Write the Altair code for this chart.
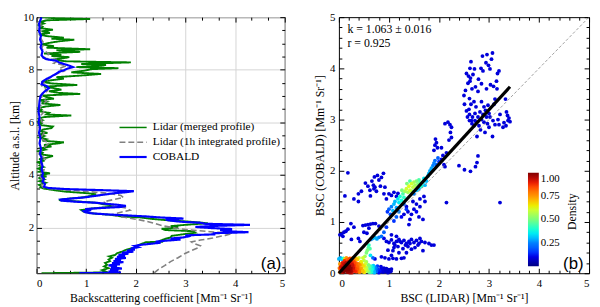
import altair as alt
import pandas as pd

FONT = "Liberation Serif"

# ---------------- Panel (a): vertical profiles ----------------
series_names = ["Lidar (merged profile)", "Lidar (1h integrated profile)", "COBALD"]
series_colors = ["#008000", "#808080", "#0000ff"]

green_alt = [0.26, 0.29, 0.32, 0.38, 0.45, 0.52, 0.58, 0.65, 0.72, 0.78, 0.85, 0.90, 0.95, 1.02, 1.08,
             1.15, 1.22, 1.28, 1.35, 1.40, 1.44, 1.46, 1.50, 1.56, 1.62, 1.68, 1.74, 1.80, 1.86, 1.90,
             1.95, 2.00, 2.05, 2.10, 2.16, 2.22, 2.28, 2.33, 2.38, 2.42, 2.48, 2.52, 2.56, 2.60, 2.66,
             2.72, 2.78, 2.84, 2.88, 2.94, 3.00, 3.04, 3.08, 3.14, 3.20, 3.26, 3.30, 3.36, 3.42, 3.48,
             3.52, 3.55, 3.62, 3.70, 3.76, 3.82, 3.88, 3.94, 4.00, 4.06, 4.12, 4.18, 4.24, 4.30, 4.36,
             4.42, 4.48, 4.54, 4.60, 4.66, 4.72, 4.78, 4.84, 4.90, 4.96, 5.02, 5.08, 5.14, 5.20, 5.24,
             5.30, 5.36, 5.42, 5.48, 5.54, 5.60, 5.66, 5.72, 5.78, 5.84, 5.90, 5.96, 6.02, 6.08, 6.14,
             6.20, 6.26, 6.30, 6.36, 6.42, 6.48, 6.54, 6.60, 6.66, 6.72, 6.78, 6.84, 6.90, 6.96, 7.02,
             7.08, 7.12, 7.18, 7.24, 7.30, 7.36, 7.42, 7.48, 7.54, 7.60, 7.66, 7.72, 7.78, 7.84, 7.90,
             7.96, 8.02, 8.06, 8.10, 8.14, 8.18, 8.22, 8.28, 8.32, 8.38, 8.44, 8.48, 8.52, 8.56, 8.62,
             8.68, 8.74, 8.78, 8.84, 8.90, 8.96, 9.02, 9.08, 9.14, 9.18, 9.22, 9.28, 9.34, 9.40, 9.46,
             9.52, 9.58, 9.64, 9.70, 9.76, 9.82, 9.88, 9.93, 9.97, 10.0]
green_bsc = [0.10, 1.35, 1.40, 1.32, 1.45, 1.36, 1.42, 1.38, 1.48, 1.45, 1.52, 1.46, 1.58, 1.62, 1.72,
             1.80, 1.95, 2.02, 2.08, 2.15, 2.20, 2.55, 2.50, 2.58, 2.70, 2.72, 2.95, 3.20, 3.15, 2.60,
             2.52, 2.85, 2.70, 3.00, 3.45, 3.10, 2.60, 2.30, 2.10, 1.70, 1.50, 1.20, 1.05, 0.95, 0.90,
             1.10, 1.45, 1.55, 1.35, 1.20, 0.75, 0.45, 0.55, 0.90, 1.10, 1.20, 1.05, 0.60, 0.35, 0.15,
             0.08, 0.10, 0.05, 0.18, 0.06, 0.15, 0.04, 0.20, 0.08, 0.27, 0.05, 0.12, 0.03, 0.14, 0.06,
             0.10, 0.02, 0.16, 0.05, 0.22, 0.33, 0.08, 0.12, 0.03, 0.18, 0.10, 0.30, 0.15, 0.45, 0.55,
             0.12, 0.20, 0.06, 0.15, 0.05, 0.22, 0.08, 0.12, 0.30, 0.33, 0.05, 0.10, 0.03, 0.12, 0.05,
             0.15, 0.70, 0.20, 0.25, 0.05, 0.10, 0.04, 0.18, 0.48, 0.10, 0.20, 0.05, 0.35, 0.20, 0.12,
             0.88, 0.45, 0.25, 0.50, 0.35, 0.15, 0.82, 0.30, 0.10, 0.30, 0.55, 0.40, 0.90, 1.30, 0.70,
             0.95, 1.10, 1.65, 0.80, 1.20, 1.40, 0.90, 1.90, 0.60, 0.30, 0.55, 0.66, 0.30, 0.50, 0.15,
             0.88, 0.40, 1.08, 0.20, 0.35, 0.10, 0.25, 0.45, 0.76, 0.30, 0.55, 0.20, 0.05, 0.27, 0.10,
             0.33, 0.08, 0.12, 0.05, 0.15, 0.08, 0.20, 1.08, 0.30, 0.10]

gray_alt = [0.27, 0.40, 0.55, 0.70, 0.85, 1.00, 1.12, 1.22, 1.30, 1.38, 1.45, 1.52, 1.60, 1.70, 1.78,
            1.84, 1.90, 1.98, 2.06, 2.14, 2.22, 2.30, 2.38, 2.44, 2.50, 2.58, 2.66, 2.74, 2.82, 2.90,
            2.98, 3.06, 3.14, 3.22, 3.30, 3.38, 3.44, 3.50, 3.60, 3.80, 4.00, 4.20, 4.40, 4.60, 4.80,
            5.00, 5.20, 5.40, 5.60, 5.80, 6.00, 6.20, 6.40, 6.60, 6.80, 7.00, 7.20, 7.40, 7.60, 7.80,
            7.95, 8.05, 8.15, 8.25, 8.35, 8.45, 8.60, 8.80, 9.00, 9.30, 9.60, 10.0]
gray_bsc = [2.37, 2.45, 2.58, 2.70, 2.85, 2.98, 3.12, 3.25, 3.30, 3.18, 3.12, 3.30, 3.55, 3.80, 3.95,
            3.50, 3.10, 2.80, 2.55, 2.40, 2.25, 2.05, 1.80, 1.60, 1.55, 1.70, 1.88, 1.80, 1.55, 1.40,
            1.35, 1.55, 1.75, 1.70, 1.45, 0.95, 0.50, 0.15, 0.10, 0.12, 0.05, 0.15, 0.08, 0.18, 0.05,
            0.12, 0.25, 0.08, 0.15, 0.05, 0.12, 0.06, 0.15, 0.05, 0.20, 0.08, 0.22, 0.10, 0.20, 0.35,
            0.55, 0.45, 0.60, 0.35, 0.45, 0.15, 0.25, 0.10, 0.15, 0.05, 0.10, 0.05]

blue_alt = [0.26, 0.28, 0.32, 0.36, 0.40, 0.44, 0.48, 0.52, 0.56, 0.60, 0.64, 0.68, 0.72, 0.76, 0.80,
            0.84, 0.88, 0.92, 0.96, 1.00, 1.04, 1.08, 1.12, 1.16, 1.20, 1.25, 1.30, 1.34, 1.38, 1.42,
            1.46, 1.50, 1.54, 1.58, 1.62, 1.66, 1.70, 1.74, 1.78, 1.82, 1.86, 1.90, 1.94, 1.98, 2.02,
            2.06, 2.10, 2.14, 2.18, 2.22, 2.26, 2.30, 2.34, 2.38, 2.42, 2.46, 2.50, 2.54, 2.58, 2.62,
            2.66, 2.70, 2.74, 2.78, 2.82, 2.86, 2.90, 2.94, 2.98, 3.02, 3.06, 3.10, 3.14, 3.18, 3.22,
            3.26, 3.30, 3.34, 3.38, 3.42, 3.46, 3.50, 3.55, 3.65, 3.75, 3.85, 3.95, 4.05, 4.20, 4.35,
            4.50, 4.65, 4.80, 5.00, 5.20, 5.40, 5.60, 5.80, 6.00, 6.20, 6.40, 6.60, 6.80, 7.00, 7.10,
            7.20, 7.30, 7.38, 7.45, 7.55, 7.65, 7.72, 7.78, 7.85, 7.92, 7.98, 8.04, 8.10, 8.16, 8.22,
            8.28, 8.34, 8.40, 8.46, 8.55, 8.70, 8.85, 9.00, 9.15, 9.30, 9.45, 9.60, 9.75, 9.90, 10.0]
blue_bsc = [0.86, 1.70, 1.45, 1.65, 1.48, 1.72, 1.50, 1.62, 1.45, 1.68, 1.52, 1.75, 1.55, 1.70, 1.58,
            1.80, 1.62, 1.78, 1.65, 1.85, 1.72, 1.95, 1.82, 1.98, 1.90, 2.05, 1.98, 2.10, 2.30, 2.50,
            2.40, 2.62, 2.90, 2.70, 2.95, 3.05, 3.00, 3.60, 3.55, 4.27, 3.80, 3.70, 3.94, 3.50, 3.20,
            3.60, 4.30, 3.40, 3.30, 2.90, 2.70, 2.60, 2.96, 2.50, 2.20, 1.80, 1.40, 1.10, 0.98, 0.95,
            1.10, 0.98, 1.30, 1.70, 1.80, 1.65, 1.40, 1.20, 0.80, 0.50, 0.48, 0.70, 0.95, 1.10, 1.25,
            1.40, 1.55, 1.80, 1.96, 1.30, 0.60, 0.25, 0.15, 0.17, 0.12, 0.15, 0.11, 0.13, 0.10, 0.12,
            0.09, 0.10, 0.07, 0.09, 0.06, 0.08, 0.05, 0.07, 0.04, 0.06, 0.04, 0.05, 0.06, 0.08, 0.12,
            0.18, 0.25, 0.20, 0.10, 0.12, 0.20, 0.28, 0.33, 0.40, 0.45, 0.55, 0.62, 0.73, 0.65, 0.55,
            0.45, 0.40, 0.20, 0.14, 0.10, 0.12, 0.08, 0.10, 0.07, 0.09, 0.05, 0.06, 0.05, 0.08, 0.10]

# ---------------- Panel (b): scatter ----------------
lidar_bsc = [
    0.05, 0.08, 0.10, 0.12, 0.15, 0.18, 0.20, 0.22, 0.25, 0.28, 0.30, 0.33, 0.35, 0.38, 0.40, 0.42,
    0.14, 0.18, 0.10, 0.06, 0.03, 0.02, 0.26, 0.30, 0.22, 0.17, 0.12, 0.08, 0.35, 0.45, 0.48, 0.50,
    0.52, 0.55, 0.58, 0.60, 0.62, 0.65, 0.68, 0.70, 0.72, 0.75, 0.78, 0.82, 0.85, 0.88, 0.92, 0.95,
    1.00, 1.05, 1.02, 0.80, 0.98,
    0.00, 0.03, 0.06, 0.09, 0.12, 0.15, 0.19, 0.22, 0.25, 0.28, 0.31, 0.34, 0.37, 0.40,
    0.48, 0.52, 0.55, 0.57, 0.59, 0.60, 0.62, 0.45, 0.50, 0.63, 0.68, 0.72, 0.55,
    0.68, 0.72, 0.76, 0.80, 0.85, 0.64, 0.90, 0.95,
    0.95, 1.00, 1.05, 1.10, 1.15, 1.20, 1.25, 1.30, 1.35, 1.40, 1.45, 1.50, 1.55, 1.60, 1.65, 1.10,
    1.18, 1.28, 1.38, 1.45, 1.52, 1.68, 1.80, 1.85, 1.90, 1.00, 1.08, 1.15, 1.25, 0.92, 0.85, 1.05,
    1.15, 0.90,
    0.97, 1.00, 1.03, 1.05, 1.08, 1.10, 1.12, 1.15, 1.18, 1.20, 1.22, 1.25, 1.28, 1.30, 1.32, 1.35,
    1.38, 1.40, 1.42, 1.45, 1.48, 1.50, 1.52, 1.55, 1.58, 1.60, 1.62, 1.65, 1.68, 1.70, 1.72, 1.36,
    1.42, 1.46, 1.26, 1.30, 1.35, 1.20, 1.15, 1.10, 1.50, 1.55, 1.60, 1.75, 1.78, 1.80, 1.82, 1.85,
    1.88, 1.90, 1.92, 1.95, 1.98, 2.00, 2.05, 2.08, 2.10, 2.12,
    1.00, 1.05, 1.10, 1.15, 1.18, 1.30, 1.35, 1.38, 1.42, 1.45, 1.50, 1.55, 1.60, 1.62, 1.48, 1.70,
    1.90, 1.92, 1.95, 1.93, 1.97, 2.18, 2.22, 2.25, 2.23, 2.25, 2.20, 2.12, 2.15, 2.05, 2.40, 2.51,
    2.63, 2.73, 2.76, 2.78, 2.15, 3.22,
    0.18, 0.12, 0.39, 0.39, 0.53, 0.66, 0.69, 0.70, 0.72, 0.77, 0.89, 0.85, 0.80, 0.63, 0.75, 0.90,
    0.95, 0.24, 0.18, 0.10, 0.02, 0.05, 0.25, 0.39, 0.50, 0.53, 0.58, 0.63, 0.68, 0.73, 0.48, 0.80,
    2.59, 2.63, 2.64, 2.71, 2.84, 2.87, 2.96, 3.07, 2.94, 2.99, 3.02, 3.17, 2.58, 2.79, 3.03, 3.09,
    2.53, 2.73, 3.16, 3.33, 2.50, 2.61, 2.51, 2.55, 2.61, 2.67, 2.72, 2.65, 2.61, 2.78, 2.75, 2.85,
    2.90, 2.95, 3.00, 2.97, 2.80, 2.70, 3.37, 3.40, 3.30, 3.20, 3.38, 3.07, 2.76, 2.90, 2.85, 3.10,
    3.05, 3.15, 2.68, 2.70, 2.68, 3.25, 3.28, 2.80, 2.90, 3.00]
cobald_bsc = [
    0.05, 0.10, 0.03, 0.15, 0.08, 0.12, 0.04, 0.18, 0.10, 0.06, 0.14, 0.09, 0.03, 0.12, 0.06, 0.16,
    0.20, 0.22, 0.18, 0.15, 0.08, 0.02, 0.20, 0.22, 0.01, 0.02, 0.09, 0.02, 0.18, 0.10, 0.03, 0.14,
    0.07, 0.11, 0.04, 0.13, 0.08, 0.02, 0.10, 0.05, 0.12, 0.03, 0.08, 0.04, 0.09, 0.02, 0.06, 0.09,
    0.07, 0.08, 0.03, 0.01, 0.01,
    0.28, 0.30, 0.27, 0.29, 0.28, 0.30, 0.27, 0.29, 0.28, 0.30, 0.26, 0.29, 0.27, 0.30,
    0.30, 0.33, 0.40, 0.45, 0.50, 0.55, 0.48, 0.22, 0.25, 0.35, 0.30, 0.28, 0.22,
    0.68, 0.70, 0.67, 0.70, 0.72, 0.66, 0.80, 0.90,
    0.62, 0.60, 0.65, 0.58, 0.62, 0.66, 0.60, 0.64, 0.58, 0.62, 0.66, 0.60, 0.64, 0.58, 0.62, 0.50,
    0.52, 0.48, 0.52, 0.47, 0.50, 0.44, 0.58, 0.55, 0.55, 0.28, 0.29, 0.28, 0.29, 0.30, 0.32, 0.75,
    0.72, 0.68,
    1.20, 1.25, 1.15, 1.30, 1.22, 1.35, 1.40, 1.28, 1.45, 1.38, 1.50, 1.42, 1.55, 1.48, 1.60, 1.65,
    1.58, 1.70, 1.62, 1.75, 1.68, 1.78, 1.72, 1.80, 1.74, 1.82, 1.76, 1.70, 1.78, 1.85, 1.72, 1.75,
    1.80, 1.60, 1.62, 1.35, 1.25, 1.20, 1.10, 1.02, 1.55, 1.62, 1.65, 1.80, 1.90, 1.95, 2.00, 2.05,
    2.10, 2.15, 2.20, 2.12, 2.25, 2.18, 2.22, 2.30, 2.12, 2.08,
    1.55, 1.52, 1.58, 1.50, 1.56, 1.15, 1.30, 1.20, 1.05, 1.15, 1.25, 1.35, 1.10, 1.45, 1.40, 1.50,
    2.40, 2.50, 2.55, 2.62, 2.45, 2.95, 2.90, 2.85, 2.75, 2.65, 2.60, 2.92, 2.35, 2.45, 2.10, 2.02,
    1.99, 2.08, 2.16, 2.29, 1.38, 1.38,
    1.96, 1.51, 1.55, 1.40, 1.76, 1.80, 1.72, 1.65, 1.68, 1.91, 1.95, 1.87, 1.82, 1.51, 1.60, 1.55,
    1.45, 0.97, 0.86, 0.80, 0.75, 0.76, 0.66, 0.68, 0.80, 0.94, 0.95, 0.96, 0.97, 0.97, 0.93, 0.92,
    3.85, 3.81, 4.13, 3.99, 4.00, 4.24, 4.27, 4.30, 4.11, 4.06, 3.99, 3.90, 3.71, 3.79, 3.68, 3.65,
    3.57, 3.64, 3.60, 3.40, 3.47, 3.41, 3.30, 3.17, 3.10, 3.05, 3.12, 2.98, 2.98, 3.05, 2.95, 3.00,
    2.95, 3.05, 3.12, 2.92, 2.88, 2.88, 3.08, 3.03, 2.94, 2.90, 2.98, 2.67, 2.67, 3.25, 3.35, 3.30,
    3.20, 3.15, 3.20, 3.55, 3.45, 3.70, 3.50, 4.10, 3.85, 3.50]
density = [
    0.95, 0.98, 1.00, 0.97, 1.00, 0.99, 0.98, 0.92, 0.95, 0.90, 0.88, 0.85, 0.85, 0.80, 0.78, 0.75,
    0.95, 0.90, 0.93, 0.90, 0.85, 0.80, 0.90, 0.85, 0.96, 0.97, 1.00, 0.92, 0.80, 0.72, 0.70, 0.66,
    0.62, 0.58, 0.52, 0.48, 0.44, 0.40, 0.36, 0.30, 0.26, 0.20, 0.15, 0.12, 0.10, 0.08, 0.08, 0.08,
    0.08, 0.08, 0.08, 0.12, 0.08,
    0.30, 0.28, 0.32, 0.40, 0.65, 0.75, 0.82, 0.85, 0.80, 0.78, 0.75, 0.70, 0.68, 0.60,
    0.60, 0.55, 0.50, 0.50, 0.45, 0.42, 0.45, 0.62, 0.58, 0.35, 0.20, 0.10, 0.55,
    0.30, 0.30, 0.28, 0.25, 0.22, 0.25, 0.20, 0.15,
    0.09, 0.09, 0.09, 0.09, 0.09, 0.09, 0.09, 0.09, 0.09, 0.09, 0.09, 0.09, 0.09, 0.09, 0.09, 0.09,
    0.09, 0.09, 0.09, 0.09, 0.09, 0.09, 0.09, 0.09, 0.09, 0.09, 0.09, 0.09, 0.09, 0.09, 0.10, 0.09,
    0.09, 0.10,
    0.15, 0.20, 0.18, 0.25, 0.30, 0.30, 0.30, 0.28, 0.35, 0.35, 0.40, 0.38, 0.45, 0.42, 0.55, 0.60,
    0.55, 0.62, 0.60, 0.60, 0.58, 0.55, 0.55, 0.50, 0.50, 0.45, 0.45, 0.40, 0.38, 0.35, 0.30, 0.50,
    0.45, 0.50, 0.50, 0.20, 0.15, 0.25, 0.20, 0.15, 0.25, 0.30, 0.30, 0.30, 0.30, 0.30, 0.28, 0.28,
    0.25, 0.25, 0.22, 0.20, 0.20, 0.15, 0.12, 0.10, 0.09, 0.09] + [0.09] * 118

# additional points (b)
extra_lidar = [
    0.04, 0.07, 0.11, 0.13, 0.16, 0.19, 0.21, 0.24, 0.27, 0.29, 0.32, 0.34, 0.37, 0.39, 0.41, 0.43,
    0.46, 0.47, 0.51, 0.53, 0.56, 0.59, 0.61, 0.64, 0.66, 0.69, 0.71, 0.74, 0.77, 0.80, 0.84, 0.87,
    0.90, 0.93, 0.97, 1.04, 0.01, 0.02, 0.09, 0.14, 0.23, 0.26, 0.31, 0.36, 0.44, 0.20, 0.28, 0.16,
    2.55, 2.62, 2.66, 2.70, 2.74, 2.82, 2.88, 2.93, 2.98, 3.02, 3.08, 3.12, 3.18, 3.22, 3.28, 2.60,
    2.64, 2.57, 2.83, 2.92, 3.00, 2.72, 2.66, 3.12, 2.78, 2.85, 2.95, 2.62, 2.68, 3.35, 3.42, 3.34,
    3.15, 3.20, 2.88, 3.05,
    0.45, 0.58, 0.62, 0.71, 0.83, 0.92, 0.30, 0.08, 0.14, 0.30, 0.42, 0.56, 0.60,
    1.12, 1.22, 1.33, 1.42, 1.58, 1.62, 1.72, 1.05, 1.20, 1.35, 0.98, 1.08, 1.30,
    1.25, 1.40, 1.55, 1.62, 1.68, 1.72]
extra_cobald = [
    0.12, 0.20, 0.24, 0.06, 0.16, 0.07, 0.14, 0.05, 0.16, 0.10, 0.04, 0.20, 0.08, 0.18, 0.02, 0.09,
    0.17, 0.06, 0.02, 0.18, 0.06, 0.16, 0.02, 0.14, 0.07, 0.15, 0.01, 0.09, 0.14, 0.06, 0.13, 0.05,
    0.10, 0.03, 0.05, 0.04, 0.10, 0.18, 0.06, 0.11, 0.10, 0.01, 0.18, 0.13, 0.22, 0.25, 0.24, 0.26,
    3.90, 3.75, 3.60, 3.35, 3.25, 3.15, 3.10, 3.18, 3.28, 3.05, 2.98, 2.90, 3.00, 3.10, 2.85, 3.20,
    3.30, 3.05, 2.80, 2.75, 2.85, 2.98, 2.92, 3.40, 3.55, 3.70, 3.60, 4.00, 3.88, 3.15, 2.96, 2.88,
    3.75, 3.95, 3.95, 4.18,
    1.60, 1.70, 1.62, 1.88, 1.70, 1.68, 1.45, 0.72, 0.82, 0.90, 0.62, 0.78, 0.88,
    0.55, 0.62, 0.55, 0.58, 0.55, 0.68, 0.60, 0.35, 0.40, 0.40, 0.45, 0.44, 0.30,
    1.10, 0.95, 1.20, 1.30, 1.05, 1.40]
extra_density = [
    0.92, 0.90, 0.88, 1.00, 1.00, 1.00, 0.99, 0.97, 0.93, 0.92, 0.88, 0.82, 0.83, 0.78, 0.78, 0.74,
    0.68, 0.70, 0.64, 0.60, 0.56, 0.50, 0.46, 0.42, 0.38, 0.32, 0.30, 0.22, 0.16, 0.13, 0.10, 0.09,
    0.08, 0.08, 0.08, 0.08, 0.80, 0.75, 0.97, 1.00, 0.98, 0.93, 0.85, 0.82, 0.65, 0.85, 0.80, 0.82,
    0.09, 0.09, 0.09, 0.09, 0.09, 0.09, 0.09, 0.09, 0.09, 0.09, 0.09, 0.09, 0.09, 0.09, 0.09, 0.09,
    0.09, 0.09, 0.09, 0.09, 0.09, 0.09, 0.09, 0.09, 0.09, 0.09, 0.09, 0.09, 0.09, 0.09, 0.09, 0.09,
    0.09, 0.09, 0.09, 0.09,
    0.09, 0.09, 0.09, 0.09, 0.09, 0.09, 0.09, 0.09, 0.09, 0.09, 0.09, 0.09, 0.09,
    0.09, 0.09, 0.09, 0.09, 0.09, 0.09, 0.09, 0.09, 0.09, 0.09, 0.09, 0.09, 0.09,
    0.12, 0.09, 0.12, 0.09, 0.09, 0.09]

one_to_one_x = [0.0, 5.0]
one_to_one_y = [0.0, 5.0]
fit_x = [0.0, 3.42]
fit_y = [0.0, 3.64]
jet = ["#000080", "#0000ff", "#0080ff", "#15ffe2", "#7bff7b", "#e2ff15", "#ff9700", "#ff2100", "#800000"]

stats_text = ["k = 1.063 \u00b1 0.016", "r = 0.925"]

# ---------------- build tables ----------------
prof = pd.concat([
    pd.DataFrame({"alt": green_alt, "bsc": green_bsc, "series": series_names[0]}),
    pd.DataFrame({"alt": gray_alt, "bsc": gray_bsc, "series": series_names[1]}),
    pd.DataFrame({"alt": blue_alt, "bsc": blue_bsc, "series": series_names[2]}),
], ignore_index=True)
n = min(len(lidar_bsc), len(cobald_bsc), len(density))
m = min(len(extra_lidar), len(extra_cobald), len(extra_density))
scat = pd.DataFrame({"lidar": lidar_bsc[:n] + extra_lidar[:m],
                     "cobald": cobald_bsc[:n] + extra_cobald[:m],
                     "density": density[:n] + extra_density[:m]})
scat = scat.sort_values("density", kind="stable")
one = pd.DataFrame({"lidar": one_to_one_x, "cobald": one_to_one_y})
fit = pd.DataFrame({"lidar": fit_x, "cobald": fit_y})

W = 252
H = 260
UNIT = "[Mm\u207b\u00b9 Sr\u207b\u00b9]"


def main_axis(values, title, grid, lp, tp):
    return alt.Axis(values=values, grid=grid, gridColor="#d4d4d4", gridWidth=1, ticks=False,
                    domain=False, labelFont=FONT, labelFontSize=11, labelColor="black",
                    labelPadding=lp, title=title, titleFont=FONT, titleFontSize=12,
                    titleFontWeight="normal", titleColor="black", titlePadding=tp, format="d")


def tick_axis(orient, values, size):
    return alt.Axis(orient=orient, values=values, tickSize=size, offset=-size, labels=False,
                    domain=False, grid=False, title=None, tickColor="black", tickWidth=1)


def tick_layers(data, xf, yf, xmaj, xmin, ymaj, ymin):
    out = []
    for xo, yo, xv, yv, s in [("bottom", "left", xmaj, ymaj, 5), ("bottom", "left", xmin, ymin, 3),
                              ("top", "right", xmaj, ymaj, 5), ("top", "right", xmin, ymin, 3)]:
        out.append(alt.Chart(data).mark_point(opacity=0).encode(
            x=alt.X(xf, axis=tick_axis(xo, xv, s)),
            y=alt.Y(yf, axis=tick_axis(yo, yv, s))))
    return out


def one_entry_legend(name, row, stroke_color):
    return alt.Legend(title=None, orient="none", legendX=83, legendY=97 + 15 * row, values=[name],
                      symbolType="stroke", symbolSize=760, symbolStrokeColor=stroke_color,
                      labelFont=FONT, labelFontSize=11.5, labelColor="black", labelOffset=5)


n0, n1, n2 = series_names
lines = alt.Chart(prof).mark_line(clip=True).encode(
    x=alt.X("bsc:Q", scale=alt.Scale(domain=[0, 5], nice=False),
            axis=main_axis([0, 1, 2, 3, 4, 5], "Backscattering coefficient " + UNIT, True, 4, 5)),
    y=alt.Y("alt:Q", scale=alt.Scale(domain=[0.26, 10], nice=False, zero=False),
            axis=main_axis([2, 4, 6, 8, 10], "Altitude a.s.l. [km]", True, 3, 1)),
    color=alt.Color("series:N", scale=alt.Scale(domain=[n0, n1, n2], range=series_colors),
                    legend=one_entry_legend(n0, 0, series_colors[0])),
    strokeDash=alt.StrokeDash("series:N", scale=alt.Scale(domain=[n1, n0, n2], range=[[6, 3], [1, 0], [1, 0]]),
                              legend=one_entry_legend(n1, 1, series_colors[1])),
    strokeWidth=alt.StrokeWidth("series:N", scale=alt.Scale(domain=[n2, n0, n1], range=[2.2, 1.6, 1.6]),
                                legend=one_entry_legend(n2, 2, series_colors[2])),
    order=alt.Order("alt:Q"),
)

label_a = alt.Chart(pd.DataFrame({"t": ["(a)"]})).mark_text(
    font="Liberation Sans", fontSize=17, align="right", baseline="middle", color="black").encode(
    x=alt.datum(4.93, axis=None), y=alt.datum(0.62, axis=None), text="t:N")

xa_min = [v / 3 for v in range(16) if v % 3]
ya_min = [0.5 * v for v in range(1, 21) if v % 4]
left = alt.layer(lines, label_a, *tick_layers(prof, "bsc:Q", "alt:Q", [0, 1, 2, 3, 4, 5], xa_min,
                                             [2, 4, 6, 8, 10], ya_min)
                 ).resolve_axis(x="independent", y="independent").properties(width=W, height=H)

leg_b = alt.Legend(orient="none", legendX=192, legendY=158, direction="vertical", gradientLength=95,
                   gradientThickness=11, values=[0.25, 0.5, 0.75, 1.0], format=".2f", title=None,
                   labelFont=FONT, labelFontSize=11, labelColor="black", gradientStrokeWidth=0,
                   labelOverlap=False, tickCount=4)

pts = alt.Chart(scat).mark_circle(size=15, opacity=1).encode(
    x=alt.X("lidar:Q", scale=alt.Scale(domain=[0, 5], nice=False),
            axis=main_axis([0, 1, 2, 3, 4, 5], "BSC (LIDAR) " + UNIT, False, 4, 5)),
    y=alt.Y("cobald:Q", scale=alt.Scale(domain=[0, 5], nice=False),
            axis=main_axis([0, 1, 2, 3, 4, 5], "BSC (COBALD) " + UNIT, False, 4, 3)),
    color=alt.Color("density:Q", scale=alt.Scale(domain=[0, 1], range=jet), legend=leg_b),
    order=alt.Order("density:Q"),
)
one_line = alt.Chart(one).mark_line(color="#888888", strokeWidth=0.8, strokeDash=[3, 2]).encode(
    x=alt.X("lidar:Q", axis=None), y=alt.Y("cobald:Q", axis=None))
fit_line = alt.Chart(fit).mark_line(color="black", strokeWidth=3.2).encode(
    x=alt.X("lidar:Q", axis=None), y=alt.Y("cobald:Q", axis=None))
stats = alt.Chart(pd.DataFrame({"t": stats_text, "yy": [4.76, 4.49]})).mark_text(
    font=FONT, fontSize=12, align="left", baseline="middle", color="black").encode(
    x=alt.datum(0.17, axis=None), y=alt.Y("yy:Q", axis=None), text="t:N")
label_b = alt.Chart(pd.DataFrame({"t": ["(b)"]})).mark_text(
    font="Liberation Sans", fontSize=17, align="right", baseline="middle", color="black").encode(
    x=alt.datum(4.89, axis=None), y=alt.datum(0.17, axis=None), text="t:N")
density_title = alt.Chart(pd.DataFrame({"t": ["Density"]})).mark_text(
    font=FONT, fontSize=12, angle=270, align="center", baseline="middle", color="black").encode(
    x=alt.datum(4.67, axis=None), y=alt.datum(1.2, axis=None), text="t:N")

b_min = [0.2 * v for v in range(26) if v % 5]
right = alt.layer(pts, one_line, fit_line, stats, label_b, density_title,
                  *tick_layers(scat, "lidar:Q", "cobald:Q", [0, 1, 2, 3, 4, 5], b_min, [0, 1, 2, 3, 4, 5], b_min)
                  ).resolve_axis(x="independent", y="independent").properties(width=254, height=H)

chart = alt.hconcat(left, right, spacing=28).properties(
    padding={"left": 0, "top": 0, "right": 0, "bottom": 0}
).configure_view(stroke="black", strokeWidth=1)

chart.save("out.html", embed_options={"renderer": "svg", "actions": False})
